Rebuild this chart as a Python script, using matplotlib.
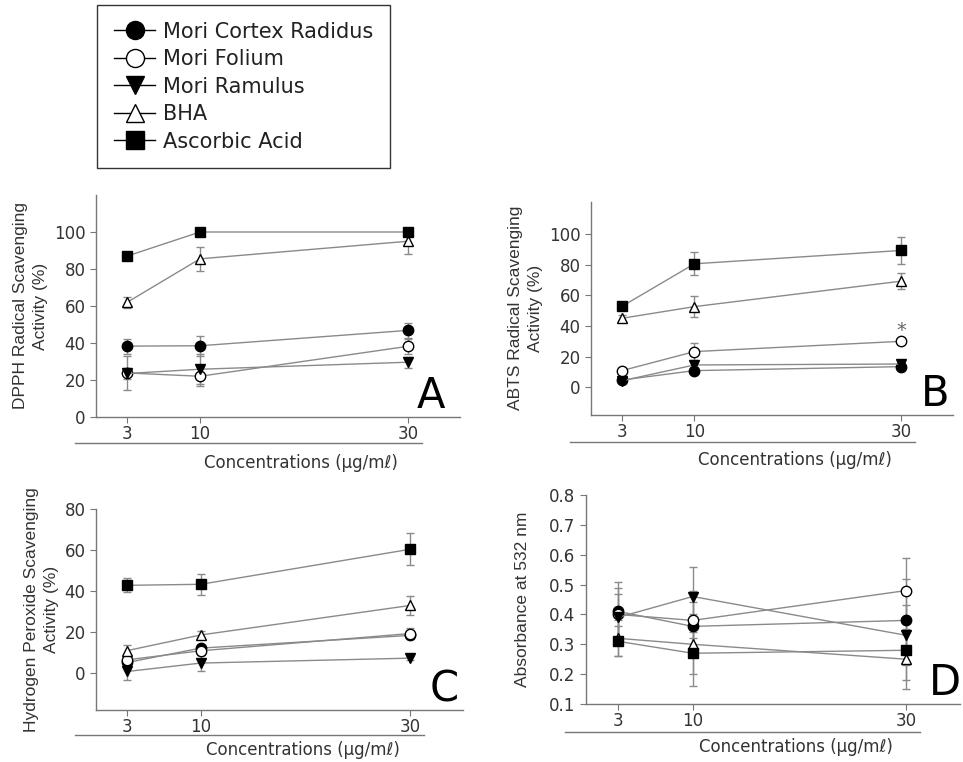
import matplotlib
matplotlib.use('Agg')
import matplotlib.pyplot as plt
from matplotlib.lines import Line2D
import matplotlib.transforms as mtrans

plt.rcParams['font.family'] = ['DejaVu Sans']

conc = [3, 10, 30]
series = ['Mori Cortex Radidus', 'Mori Folium', 'Mori Ramulus', 'BHA', 'Ascorbic Acid']

# DPPH
dpph_mean = {
    'Mori Cortex Radidus': [38.3, 38.5, 46.8],
    'Mori Folium': [23.8, 22.0, 38.2],
    'Mori Ramulus': [23.5, 25.8, 29.6],
    'BHA': [62, 85.5, 95],
    'Ascorbic Acid': [87, 100, 100],
}
dpph_err = {
    'Mori Cortex Radidus': [4, 5.5, 4],
    'Mori Folium': [9, 5, 4],
    'Mori Ramulus': [3, 8, 3],
    'BHA': [3, 6.5, 7],
    'Ascorbic Acid': [1, 0.5, 0.5],
}

# ABTS
abts_mean = {
    'Mori Cortex Radidus': [4.8, 10.9, 13.5],
    'Mori Folium': [10.9, 23.3, 30],
    'Mori Ramulus': [4.3, 14.6, 15.2],
    'BHA': [45, 52.6, 69.2],
    'Ascorbic Acid': [52.8, 80.5, 89.2],
}
abts_err = {
    'Mori Cortex Radidus': [1, 1.5, 1],
    'Mori Folium': [1.5, 5.4, 1.5],
    'Mori Ramulus': [1, 1.5, 1],
    'BHA': [2, 7, 5],
    'Ascorbic Acid': [1.5, 7.5, 9],
}

# Hydrogen peroxide
h2o2_mean = {
    'Mori Cortex Radidus': [5.2, 12.2, 18.4],
    'Mori Folium': [6.5, 10.9, 19.3],
    'Mori Ramulus': [0.8, 4.9, 7.3],
    'BHA': [11, 18.6, 33],
    'Ascorbic Acid': [42.8, 43.3, 60.4],
}
h2o2_err = {
    'Mori Cortex Radidus': [1.5, 1.5, 1.5],
    'Mori Folium': [2, 2, 2.5],
    'Mori Ramulus': [4, 4, 1],
    'BHA': [2.5, 2, 4.5],
    'Ascorbic Acid': [3.5, 5, 7.7],
}

# Absorbance at 532 nm
abs_mean = {
    'Mori Cortex Radidus': [0.41, 0.36, 0.38],
    'Mori Folium': [0.40, 0.38, 0.48],
    'Mori Ramulus': [0.39, 0.46, 0.33],
    'BHA': [0.32, 0.30, 0.25],
    'Ascorbic Acid': [0.31, 0.27, 0.28],
}
abs_err = {
    'Mori Cortex Radidus': [0.10, 0.04, 0.14],
    'Mori Folium': [0.09, 0.10, 0.11],
    'Mori Ramulus': [0.08, 0.10, 0.10],
    'BHA': [0.06, 0.14, 0.10],
    'Ascorbic Acid': [0.05, 0.07, 0.10],
}

styles = {
    'Mori Cortex Radidus': dict(marker='o', mfc='black'),
    'Mori Folium': dict(marker='o', mfc='white'),
    'Mori Ramulus': dict(marker='v', mfc='black'),
    'BHA': dict(marker='^', mfc='white'),
    'Ascorbic Acid': dict(marker='s', mfc='black'),
}

LINE = '#8a8a8a'
TXT = '#333333'

fig = plt.figure(figsize=(9.63, 7.62), dpi=100)


def panel(rect, means, errs, ylim, yticks, ylabel, letter, letter_x,
          line_off, label_off, labelpad=4, fmt='{:g}'):
    ax = fig.add_axes(rect)
    for s in series:
        st = styles[s]
        ax.errorbar(conc, means[s], yerr=errs[s], color=LINE, lw=1.0,
                    ecolor=LINE, elinewidth=1.0, capsize=3, capthick=1.0,
                    marker=st['marker'], mfc=st['mfc'], mec='black', mew=1.0,
                    ms=7.5, zorder=3)
    ax.set_xlim(0, 35)
    ax.set_ylim(*ylim)
    ax.set_xticks(conc)
    ax.set_yticks(yticks)
    ax.set_yticklabels([fmt.format(t) for t in yticks])
    for sp in ['top', 'right']:
        ax.spines[sp].set_visible(False)
    for sp in ['left', 'bottom']:
        ax.spines[sp].set_color('#777777')
        ax.spines[sp].set_linewidth(1.0)
    ax.tick_params(axis='both', direction='out', color='#777777', labelcolor=TXT,
                   labelsize=12, length=4)
    ax.tick_params(axis='x', pad=2)
    ax.set_ylabel(ylabel, fontsize=12.5, color=TXT, family=['Liberation Sans', 'DejaVu Sans'],
                  linespacing=1.45, labelpad=labelpad)
    base = mtrans.blended_transform_factory(ax.transData, ax.transAxes)
    t_line = base + mtrans.ScaledTranslation(0, -line_off / 100, fig.dpi_scale_trans)
    t_lab = base + mtrans.ScaledTranslation(0, -label_off / 100, fig.dpi_scale_trans)
    ax.add_line(Line2D([-2, 31.3], [0, 0], transform=t_line, color='#777777',
                       lw=1.0, clip_on=False))
    ax.text(19.7, 0, 'Concentrations (μg/mℓ)', transform=t_lab, ha='center',
            va='center', fontsize=12, color=TXT)
    ax.text(letter_x, 0.0, letter, transform=ax.transAxes, fontsize=30,
            color='black', ha='center', va='bottom')
    return ax


axA = panel([0.0997, 0.4528, 0.378, 0.2913], dpph_mean, dpph_err, (0, 120),
            [0, 20, 40, 60, 80, 100], 'DPPH Radical Scavenging\nActivity (%)', 'A', 0.92,
            26, 46)
axB = panel([0.6137, 0.4554, 0.376, 0.28], abts_mean, abts_err, (-18, 121),
            [0, 20, 40, 60, 80, 100], 'ABTS Radical Scavenging\nActivity (%)', 'B', 0.95,
            27, 45)
axB.text(30, 37, '*', ha='center', va='center', fontsize=14, color='#666666')
axC = panel([0.0997, 0.0682, 0.381, 0.2638], h2o2_mean, h2o2_err, (-18, 80),
            [0, 20, 40, 60, 80], 'Hydrogen Peroxide Scavenging\nActivity (%)', 'C', 0.95,
            25, 40)
axD = panel([0.6085, 0.0761, 0.388, 0.2743], abs_mean, abs_err, (0.1, 0.8),
            [0.1, 0.2, 0.3, 0.4, 0.5, 0.6, 0.7, 0.8], 'Absorbance at 532 nm', 'D', 0.962,
            28, 43, labelpad=14, fmt='{:.1f}')

handles = [Line2D([], [], color='black', lw=1.0, marker=styles[s]['marker'],
                  mfc=styles[s]['mfc'], mec='black', ms=13) for s in series]
leg = fig.legend(handles, series, loc='upper left', bbox_to_anchor=(97 / 963, 1 - 5 / 762),
                 fontsize=15, frameon=True, fancybox=False, edgecolor='black',
                 handlelength=2.0, handletextpad=0.35, labelspacing=0.36,
                 borderpad=0.8, borderaxespad=0)
leg.get_frame().set_linewidth(1.0)
for t in leg.get_texts():
    t.set_color('#222222')

fig.savefig('out.png', dpi=100)
